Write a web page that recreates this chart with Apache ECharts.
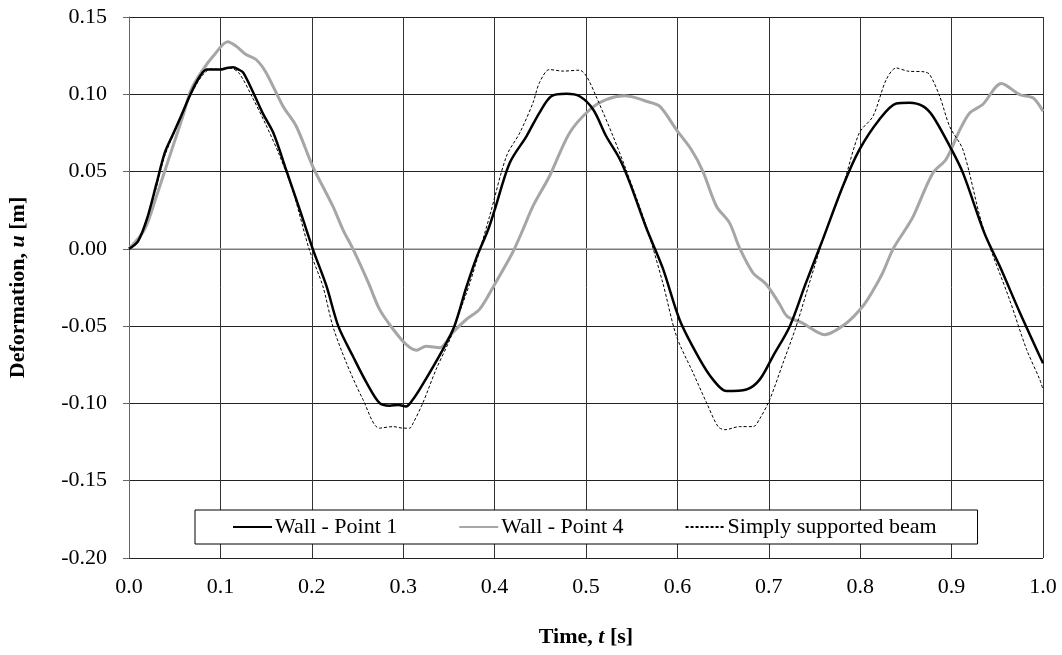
<!DOCTYPE html>
<html>
<head>
<meta charset="utf-8">
<script src="https://cdn.jsdelivr.net/npm/echarts@6/dist/echarts.min.js"></script>
<style>
  html, body { margin: 0; padding: 0; background: #fff; }
  #chart { width: 1062px; height: 655px; }
</style>
</head>
<body>
<div id="chart"></div>
<script>
// Wall - Point 1
const t1 = [0, 0.010, 0.020, 0.030, 0.039, 0.048, 0.057, 0.068, 0.077, 0.085, 0.100, 0.107, 0.114, 0.120, 0.125,
    0.136, 0.147, 0.158, 0.172, 0.187, 0.201, 0.216, 0.229, 0.245, 0.260, 0.274, 0.285, 0.295, 0.303, 0.310, 0.320,
    0.3435, 0.356, 0.369, 0.380, 0.393, 0.400, 0.4165, 0.435, 0.449, 0.462, 0.4785, 0.493, 0.508, 0.522, 0.537,
    0.548, 0.566, 0.584, 0.6025, 0.624, 0.639, 0.6535, 0.6755, 0.690, 0.7045, 0.723, 0.740, 0.759, 0.781, 0.799,
    0.821, 0.8395, 0.854, 0.8685, 0.8795, 0.898, 0.9125, 0.936, 0.9525, 0.9745, 0.9965, 1.000];
const u1 = [0, 0.005, 0.020, 0.042, 0.062, 0.074, 0.086, 0.101, 0.111, 0.116, 0.116, 0.117, 0.1175, 0.116, 0.114,
    0.101, 0.087, 0.075, 0.051, 0.025, 0.000, -0.024, -0.050, -0.0695, -0.0867, -0.0997, -0.1015, -0.101, -0.102, -0.098, -0.089,
    -0.065, -0.050, -0.025, -0.006, 0.0125, 0.025, 0.0556, 0.073, 0.088, 0.0987, 0.1003, 0.0987, 0.090, 0.073, 0.058,
    0.0427, 0.0135, -0.0125, -0.046, -0.071, -0.0846, -0.092, -0.091, -0.0846, -0.0695, -0.050, -0.023, 0.006, 0.0405, 0.064,
    0.0837, 0.094, 0.0945, 0.0923, 0.0858, 0.0664, 0.049, 0.010, -0.011, -0.041, -0.0695, -0.074];

// Wall - Point 4
const t4 = [0, 0.017, 0.030, 0.0445, 0.059, 0.068, 0.081, 0.092, 0.108, 0.1175, 0.128, 0.139, 0.150, 0.1685, 0.183,
    0.201, 0.223, 0.234, 0.245, 0.262, 0.274, 0.289, 0.3035, 0.3145, 0.325, 0.340, 0.3545, 0.369, 0.3837, 0.400,
    0.420, 0.431, 0.442, 0.460, 0.482, 0.504, 0.522, 0.542, 0.555, 0.566, 0.5805, 0.599, 0.6155, 0.628, 0.6427,
    0.657, 0.668, 0.6827, 0.6974, 0.712, 0.720, 0.737, 0.761, 0.785, 0.803, 0.814, 0.825, 0.836, 0.8505, 0.858,
    0.8795, 0.894, 0.909, 0.920, 0.934, 0.9545, 0.9745, 0.989, 1.000];
const u4 = [0, 0.0125, 0.034, 0.060, 0.086, 0.103, 0.116, 0.1246, 0.134, 0.131, 0.1257, 0.1225, 0.114, 0.0923, 0.0793,
    0.0534, 0.0276, 0.0125, 0.000, -0.022, -0.039, -0.052, -0.062, -0.0656, -0.063, -0.064, -0.054, -0.0457, -0.039, -0.023,
    -0.002, 0.0125, 0.0276, 0.047, 0.075, 0.090, 0.0966, 0.099, 0.0977, 0.0955, 0.0923, 0.077, 0.064, 0.050, 0.0276,
    0.0168, 0.0006, -0.0155, -0.023, -0.036, -0.0436, -0.048, -0.0555, -0.048, -0.037, -0.027, -0.0150, 0.000, 0.0135, 0.021,
    0.049, 0.058, 0.077, 0.088, 0.0934, 0.107, 0.0998, 0.0977, 0.089];

// Simply supported beam
const tS = [0, 0.010, 0.020, 0.030, 0.039, 0.057, 0.068, 0.080, 0.090, 0.100, 0.110, 0.120, 0.135, 0.150, 0.165,
    0.180, 0.197, 0.212, 0.223, 0.238, 0.256, 0.274, 0.289, 0.300, 0.307, 0.311, 0.3215, 0.336, 0.351, 0.360, 0.373,
    0.3945, 0.413, 0.4275, 0.442, 0.449, 0.460, 0.475, 0.493, 0.5005, 0.511, 0.5295, 0.544, 0.566, 0.584, 0.599,
    0.617, 0.632, 0.6445, 0.652, 0.668, 0.683, 0.690, 0.701, 0.7155, 0.730, 0.745, 0.7605, 0.781, 0.799, 0.814,
    0.8285, 0.8395, 0.852, 0.8705, 0.876, 0.887, 0.898, 0.9125, 0.934, 0.9635, 0.982, 0.9965, 1.000];
const uS = [0, 0.005, 0.020, 0.040, 0.060, 0.085, 0.100, 0.112, 0.1165, 0.116, 0.117, 0.114, 0.098, 0.080, 0.060,
    0.036, 0.000, -0.024, -0.050, -0.074, -0.0975, -0.116, -0.115, -0.116, -0.116, -0.1126, -0.0997, -0.078, -0.0587, -0.0436, -0.022,
    0.021, 0.060, 0.075, 0.0945, 0.1074, 0.116, 0.115, 0.1156, 0.1117, 0.0987, 0.073, 0.051, 0.0146, -0.022, -0.0565,
    -0.080, -0.0997, -0.115, -0.117, -0.115, -0.115, -0.110, -0.0975, -0.074, -0.050, -0.021, 0.008, 0.0405, 0.075, 0.0858,
    0.1095, 0.117, 0.115, 0.1145, 0.1128, 0.0987, 0.079, 0.064, 0.0146, -0.033, -0.065, -0.0846, -0.091];

const seriesNames = ['Wall - Point 1', 'Wall - Point 4', 'Simply supported beam'];

function pairs(ts, us) {
    return ts.map((t, i) => [t, us[i]]);
}

const chart = echarts.init(document.getElementById('chart'));
const font = 'Liberation Serif';
const nameRich = {
    b: { fontFamily: font, fontSize: 22, fontWeight: 'bold', color: '#000' },
    i: { fontFamily: font, fontSize: 22, fontWeight: 'bold', fontStyle: 'italic', color: '#000' }
};

chart.setOption({
    animation: false,
    textStyle: { fontFamily: font },
    grid: { left: 129, right: 19, top: 17, bottom: 97, outerBoundsMode: 'none' },
    legend: {
        data: seriesNames,
        left: 195,
        top: 510,
        backgroundColor: '#fff',
        borderColor: '#000',
        borderWidth: 1,
        padding: [6, 41, 6, 37],
        itemGap: 61,
        itemWidth: 39,
        itemHeight: 16,
        itemStyle: { opacity: 0 },
        textStyle: { fontFamily: font, fontSize: 22, color: '#000', padding: [0, 0, 0, -2] }
    },
    xAxis: {
        type: 'value',
        min: 0,
        max: 1,
        interval: 0.1,
        name: '{b|Time, }{i|t}{b| [s]}',
        nameLocation: 'middle',
        nameGap: 68,
        nameTextStyle: { rich: nameRich },
        axisLine: { show: true, lineStyle: { color: '#000', width: 1 } },
        axisTick: { show: false },
        axisLabel: {
            fontFamily: font, fontSize: 22, color: '#000', margin: 18,
            formatter: v => v.toFixed(1)
        },
        splitLine: { show: true, lineStyle: { color: '#333', width: 1 } }
    },
    yAxis: {
        type: 'value',
        min: -0.2,
        max: 0.15,
        interval: 0.05,
        name: '{b|Deformation, }{i|u}{b| [m]}',
        nameLocation: 'middle',
        nameGap: 100,
        nameTextStyle: { rich: nameRich },
        axisLine: { show: true, lineStyle: { color: '#666', width: 1 } },
        axisTick: { show: true, inside: false, length: 6, lineStyle: { color: '#666' } },
        axisLabel: {
            fontFamily: font, fontSize: 22, color: '#000', margin: 22,
            formatter: v => (Math.abs(v) < 1e-9 ? 0 : v).toFixed(2)
        },
        splitLine: { show: true, lineStyle: { color: '#222', width: 1 } }
    },
    series: [
        {
            name: seriesNames[0],
            type: 'line',
            data: pairs(t1, u1),
            symbol: 'none',
            smooth: 0.3,
            z: 4,
            lineStyle: { color: '#000', width: 2.5 },
            itemStyle: { color: '#000' },
            markLine: {
                silent: true,
                symbol: 'none',
                label: { show: false },
                z: 1,
                lineStyle: { color: '#a6a6a6', width: 1.5, type: 'solid' },
                data: [{ yAxis: 0 }]
            }
        },
        {
            name: seriesNames[1],
            type: 'line',
            data: pairs(t4, u4),
            symbol: 'none',
            smooth: 0.3,
            z: 3,
            lineStyle: { color: '#a6a6a6', width: 3 },
            itemStyle: { color: '#a6a6a6' }
        },
        {
            name: seriesNames[2],
            type: 'line',
            data: pairs(tS, uS),
            symbol: 'none',
            smooth: 0.3,
            z: 5,
            lineStyle: { color: '#000', width: 1, type: [3, 2] },
            itemStyle: { color: '#000' }
        }
    ]
});
</script>
</body>
</html>
